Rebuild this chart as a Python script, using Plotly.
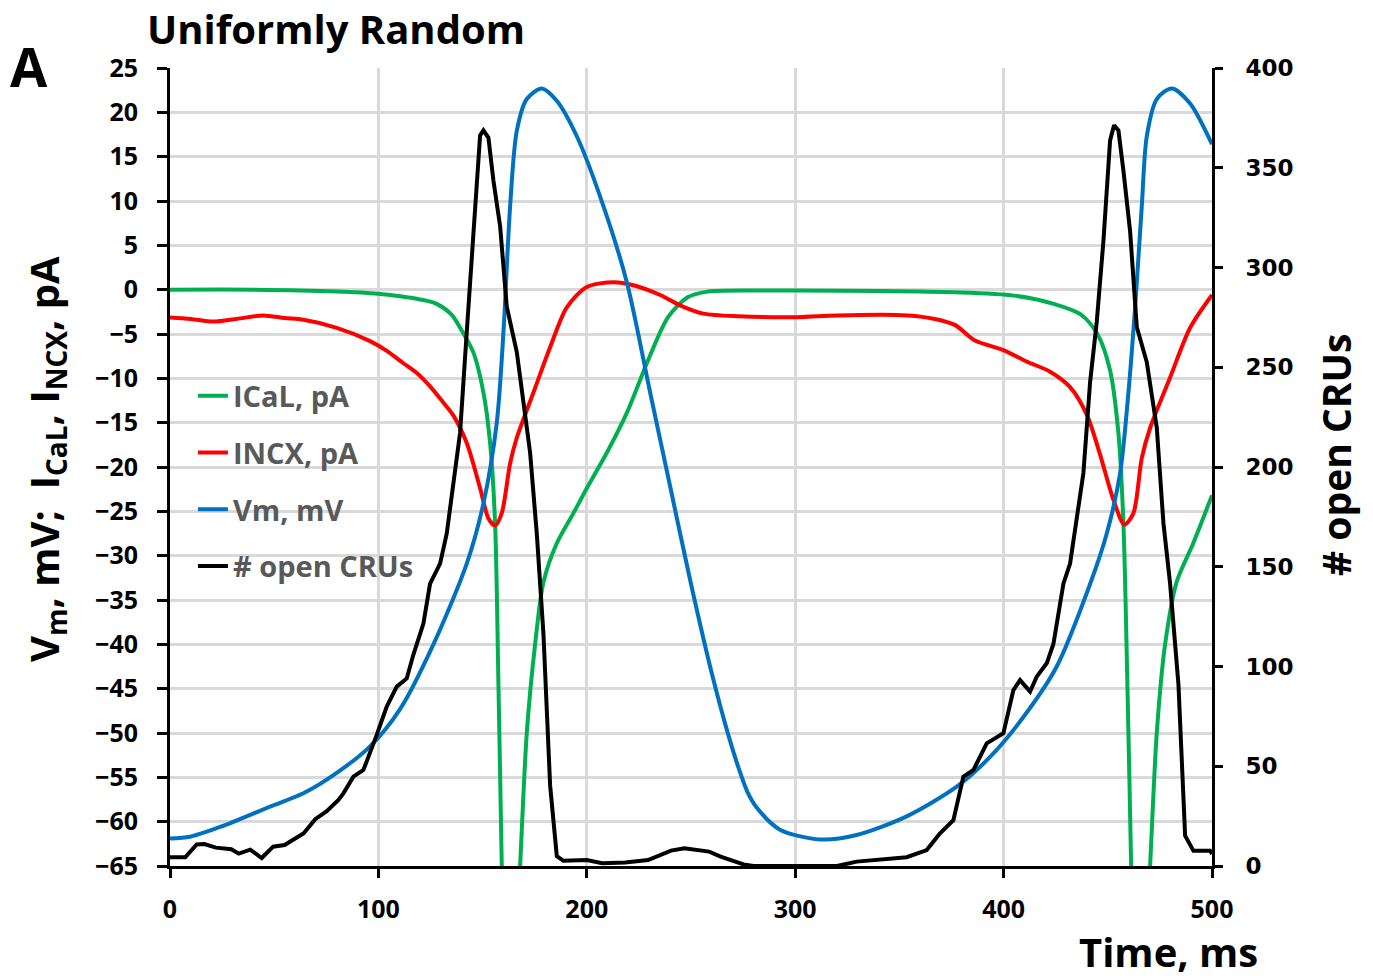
import plotly.graph_objects as go

# ---- data ----
t_ical = [0, 40, 80, 100, 110.4, 120, 128, 135, 139.2, 145.6, 150.4, 153.6, 156, 157.6, 159.2,
          160.5, 163.5, 166.5, 168, 171.2, 175.2, 179.2, 185.6, 193.6, 200, 209.6, 219.2, 229.5,
          239, 248.4, 258, 280, 301, 340, 377, 405, 424, 437, 445, 451, 455.1, 457.5, 459.4,
          461.2, 462.5, 465.5, 468.8, 470.3, 473.5, 477.5, 483, 491, 500]
ical = [0, 0, -0.2, -0.45, -0.74, -1.1, -1.6, -2.8, -4.3, -7.1, -11.6, -17.3, -26.4, -44.5, -65,
        -82, -92, -72, -65, -50, -40, -33, -28.6, -25.2, -22.4, -18.4, -13.9, -7.9,
        -3.1, -0.86, -0.22, -0.1, -0.1, -0.15, -0.3, -0.67, -1.6, -2.8, -5.0, -9.0, -16.2, -26.4, -44.5,
        -65, -82, -92, -72, -65, -50, -40, -33, -28.6, -23.2]

t_incx = [0, 10, 20.8, 32, 44.8, 55, 64, 80, 96, 104, 112, 118.4, 124.8, 130, 136, 142.4, 148.8,
          152.8, 156, 159.2, 163.2, 166.4, 174.4, 182.4, 190.4, 200, 212.8, 222.4, 235.2, 245,
          255.9, 273, 301, 320, 354, 367, 376.8, 386, 399.6, 411, 422.3, 431.9, 439.9, 446.3,
          452.7, 458, 462.3, 466.3, 470.3, 479.9, 489.5, 500]
incx = [-3.13, -3.3, -3.6, -3.3, -2.9, -3.2, -3.4, -4.3, -5.8, -6.9, -8.3, -9.4, -10.9, -12.4, -14.2,
        -17.3, -22.4, -25.8, -26.6, -25.2, -19.6, -16.7, -11.6, -6.5, -2.0, 0.3, 0.85, 0.5, -0.6, -1.8,
        -2.7, -3.0, -3.1, -2.9, -2.9, -3.3, -4.0, -5.7, -6.8, -8.1, -9.25, -11.0, -14.1, -18.6,
        -23.7, -26.5, -25.2, -19.0, -15.6, -9.9, -4.3, -0.6]

t_vm = [0, 9.6, 24, 48, 64, 80, 96, 110.4, 126.4, 142.4, 150.4, 156.8, 160, 163.2, 166.4, 171.2,
        178.4, 185.6, 195.2, 206.4, 219.2, 230.4, 240, 250, 260, 268, 273.5, 277, 281.5, 292.7,
        311.9, 329.5, 353.5, 377.5, 393.5, 409.5, 425.5, 441.5, 449.5, 455.9, 459.9, 463.1, 466.3,
        468.7, 473.5, 480.7, 489.5, 500]
vm = [-61.9, -61.7, -60.6, -58.3, -56.8, -54.5, -51.5, -47.3, -40, -30.9, -24.1, -15, -4.8, 9.4,
      17.9, 21.5, 22.7, 21.3, 17.3, 10.5, 0.85, -11.6, -22.2, -33.2, -43.3, -50.3, -54.4, -56.6,
      -58.4, -60.9, -62, -61.5, -59.4, -56.05, -52.7, -48.2, -42.5, -33.2, -27.5, -20.7, -11.6,
      -2, 9.4, 17.3, 21.5, 22.7, 21, 16.4]

t_cru = [0, 7.3, 12.8, 16.5, 22, 29.4, 33, 38.5, 44, 49.5, 55, 58.7, 64.2, 69.7, 75.2, 80.7, 83.2,
         88, 92.8, 99.2, 104, 108.8, 113.6, 116.8, 121.6, 124.8, 129.6, 132.8, 136.8, 139.2, 142.4,
         145.6, 148.8, 150.4, 152.8, 155.2, 158.4, 161.6, 166.4, 169.6, 172.8, 176, 179.2, 182.4,
         185.6, 188.8, 195, 200, 207.4, 218.4, 229.4, 240.4, 246.8, 258.7, 264.2, 269.7, 275.2,
         280, 320, 329.5, 353.5, 363.1, 369.5, 375.9, 380.7, 385.5, 391.9, 399.9, 404.7, 407.9,
         412.7, 415.9, 420.7, 423.9, 428.7, 431.9, 435.1, 438.3, 441.5, 444.7, 447.9, 451.1, 453,
         455.1, 457.5, 460.7, 463.9, 468.7, 473.5, 476.7, 479.9, 483.9, 487.1, 491.1, 499.1, 500]
cru = [4.4, 4.4, 10.8, 11, 9.2, 8.4, 6.2, 8.2, 4.0, 9.7, 10.5, 13, 16.4, 23.5, 27.5, 33, 36.4,
       44.8, 48.1, 65.7, 79.9, 89.9, 94, 106, 121.5, 141.5, 151.6, 166.7, 199.5, 217.2, 267.7,
       318.2, 366.2, 368.7, 365, 343.5, 320.7, 280.4, 257.6, 232.4, 207.1, 166.7, 116.2, 40.4,
       5, 2.6, 3, 3, 1.4, 1.8, 3, 7.7, 8.9, 7.2, 4.7, 3, 0.8,
       0, 0, 2.2, 4.4, 8, 16.4, 23, 44.8, 48.1, 61.5, 66.5, 88.2, 93.2,
       87.4, 94.9, 101.6, 111.3, 141.5, 151.6, 174.3, 197, 242.5, 272.8, 313.2, 363.7, 371.3,
       368.7, 348.5, 318.2, 270.2, 252.6, 219.7, 171.8, 141.5, 91, 15.2, 7.6, 7.6, 6]

names = ["ICaL, pA", "INCX, pA", "Vm, mV", "# open CRUs"]
colors = ["#00b050", "#ff0000", "#0070c0", "#000000"]

FONT = "Open Sans"
LW = 4

fig = go.Figure()
fig.add_trace(go.Scatter(x=t_ical, y=ical, name=names[0], mode="lines",
                         line=dict(color=colors[0], width=LW, shape="spline", smoothing=0.8),
                         legendgroup="a"))
fig.add_trace(go.Scatter(x=t_incx, y=incx, name=names[1], mode="lines",
                         line=dict(color=colors[1], width=LW, shape="spline", smoothing=0.8),
                         legendgroup="b"))
fig.add_trace(go.Scatter(x=t_vm, y=vm, name=names[2], mode="lines",
                         line=dict(color=colors[2], width=LW, shape="spline", smoothing=0.8),
                         legendgroup="c"))
fig.add_trace(go.Scatter(x=t_cru, y=cru, name=names[3], mode="lines", yaxis="y2",
                         line=dict(color=colors[3], width=LW), legendgroup="d"))

axis_common = dict(showline=True, linecolor="black", linewidth=3, ticks="outside",
                   tickcolor="black", tickwidth=3, zeroline=False)

fig.update_layout(
    width=1373, height=978,
    margin=dict(l=170, r=161, t=68, b=112),
    paper_bgcolor="white", plot_bgcolor="white",
    font=dict(family=FONT, color="black"),
    xaxis=dict(range=[0, 500], dtick=100, showgrid=True, gridcolor="#d9d9d9", gridwidth=3,
               ticklen=9, ticklabelstandoff=10,
               tickfont=dict(family=FONT, size=25, weight="bold", color="black"),
               **axis_common),
    yaxis=dict(range=[-65, 25], dtick=5, showgrid=True, gridcolor="#d9d9d9", gridwidth=3,
               ticklen=10, ticklabelstandoff=14,
               tickfont=dict(family=FONT, size=25, weight="bold", color="black"),
               **axis_common),
    yaxis2=dict(range=[0, 400], dtick=50, overlaying="y", side="right", showgrid=False,
                ticklen=8, ticklabelstandoff=18,
                tickfont=dict(family="DejaVu Sans", size=23, weight="bold", color="black"),
                **axis_common),
    legend=dict(x=0.022, y=0.621, xanchor="left", yanchor="top", bgcolor="rgba(0,0,0,0)",
                font=dict(family=FONT, size=29, weight="bold", color="#595959"),
                tracegroupgap=16),
    showlegend=True,
)

fig.add_annotation(text="Uniformly Random", xref="paper", yref="paper", x=-0.024, y=1.05,
                   xanchor="left", yanchor="middle", showarrow=False,
                   font=dict(family=FONT, size=40, weight="bold", color="black"))
fig.add_annotation(text="A", xref="paper", yref="paper", x=-0.135, y=1.003,
                   xanchor="center", yanchor="middle", showarrow=False,
                   font=dict(family=FONT, size=54, weight="bold", color="black"))
fig.add_annotation(text="Time, ms", xref="paper", yref="paper", x=1.046, y=-0.107,
                   xanchor="right", yanchor="middle", showarrow=False,
                   font=dict(family=FONT, size=40, weight="bold", color="black"))
fig.add_annotation(text="V<sub>m</sub>, mV;  I<sub>CaL</sub>, I<sub>NCX</sub>, pA",
                   xref="paper", yref="paper", x=-0.12, y=0.51, textangle=-90,
                   xanchor="center", yanchor="middle", showarrow=False,
                   font=dict(family=FONT, size=40, weight="bold", color="black"))
fig.add_annotation(text="# open CRUs", xref="paper", yref="paper", x=1.118, y=0.515,
                   textangle=-90, xanchor="center", yanchor="middle", showarrow=False,
                   font=dict(family=FONT, size=39, weight="bold", color="black"))

fig.write_html("out.html")
